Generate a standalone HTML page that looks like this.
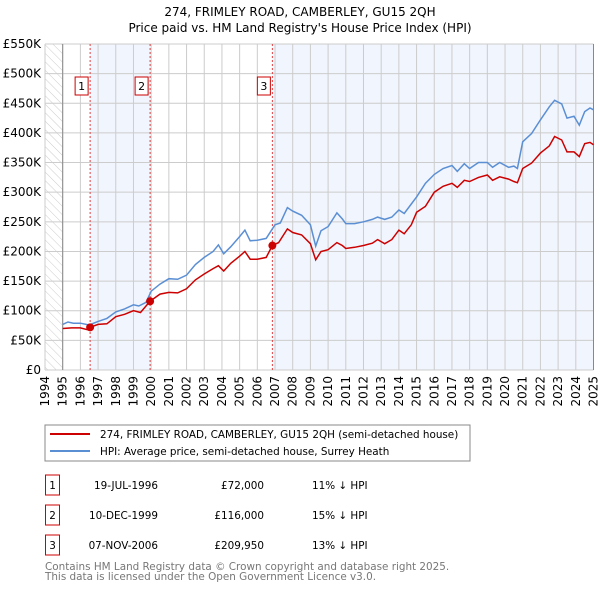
<!DOCTYPE html>
<html><head><meta charset="utf-8"><style>
body{margin:0;background:#fff;font-family:"DejaVu Sans","Liberation Sans",sans-serif;}
svg text{font-family:"DejaVu Sans","Liberation Sans",sans-serif;}
</style></head><body>
<svg id="c" width="600" height="590" viewBox="0 0 600 590" xmlns="http://www.w3.org/2000/svg">
<defs><pattern id="hatch" width="6" height="6" patternUnits="userSpaceOnUse" patternTransform="rotate(-45)"><line x1="0" y1="0" x2="0" y2="6" stroke="#ccc" stroke-width="1"/></pattern></defs>
<text x="300" y="16" text-anchor="middle" font-size="12">274, FRIMLEY ROAD, CAMBERLEY, GU15 2QH</text>
<text x="300" y="32" text-anchor="middle" font-size="12">Price paid vs. HM Land Registry's House Price Index (HPI)</text>
<g id="plot"></g>
<g>
<rect x="45" y="425" width="425" height="36" fill="#fff" stroke="#888"/>
<line x1="50" y1="434" x2="90" y2="434" stroke="#cc0000" stroke-width="2"/>
<text x="100" y="438" font-size="10.4">274, FRIMLEY ROAD, CAMBERLEY, GU15 2QH (semi-detached house)</text>
<line x1="50" y1="451" x2="90" y2="451" stroke="#5b8fd4" stroke-width="2"/>
<text x="100" y="455" font-size="10.4">HPI: Average price, semi-detached house, Surrey Heath</text>
</g>
<g id="table"></g>
<text x="45" y="570" font-size="10.4" fill="#777">Contains HM Land Registry data © Crown copyright and database right 2025.</text>
<text x="45" y="580" font-size="10.4" fill="#777">This data is licensed under the Open Government Licence v3.0.</text>
</svg>
<script>
const yTicks=[0,50,100,150,200,250,300,350,400,450,500,550];
const yLabels=["£0","£50K","£100K","£150K","£200K","£250K","£300K","£350K","£400K","£450K","£500K","£550K"];
const years=[1994,1995,1996,1997,1998,1999,2000,2001,2002,2003,2004,2005,2006,2007,2008,2009,2010,2011,2012,2013,2014,2015,2016,2017,2018,2019,2020,2021,2022,2023,2024,2025];
const saleT=[1996.55,1999.94,2006.85];
const saleV=[72,116,209.95];
const saleDates=["19-JUL-1996","10-DEC-1999","07-NOV-2006"];
const salePrices=["£72,000","£116,000","£209,950"];
const salePct=["11% ↓ HPI","15% ↓ HPI","13% ↓ HPI"];
const hpiT=[1995,1995.3,1995.6,1996,1996.5,1997,1997.5,1998,1998.5,1999,1999.3,1999.7,2000,2000.5,2001,2001.5,2002,2002.5,2003,2003.5,2003.8,2004.1,2004.5,2005,2005.3,2005.6,2006,2006.5,2007,2007.3,2007.7,2008,2008.5,2009,2009.3,2009.6,2010,2010.5,2010.8,2011,2011.5,2012,2012.5,2012.8,2013.2,2013.6,2014,2014.3,2014.7,2015,2015.5,2016,2016.5,2017,2017.3,2017.7,2018,2018.5,2019,2019.3,2019.7,2020.2,2020.5,2020.7,2021,2021.5,2022,2022.5,2022.8,2023.2,2023.5,2023.9,2024.2,2024.5,2024.8,2025];
const hpiV=[77,81,79,79,76,82,87,98,103,110,108,114,133,145,154,153,160,178,190,200,211,196,208,225,236,218,219,222,245,248,274,268,261,245,209,235,242,265,255,247,247,250,254,258,254,258,270,264,280,292,315,330,340,345,335,348,340,350,350,342,350,342,344,340,385,399,422,444,455,449,425,428,413,436,442,439];
const ppT=[1995,1995.5,1996,1996.4,1996.55,1997,1997.5,1998,1998.5,1999,1999.4,1999.94,2000.5,2001,2001.5,2002,2002.5,2003,2003.5,2003.8,2004.1,2004.5,2005,2005.3,2005.6,2006,2006.5,2006.85,2007.2,2007.7,2008,2008.5,2009,2009.3,2009.6,2010,2010.5,2010.8,2011,2011.5,2012,2012.5,2012.8,2013.2,2013.6,2014,2014.3,2014.7,2015,2015.5,2016,2016.5,2017,2017.3,2017.7,2018,2018.5,2019,2019.3,2019.7,2020.2,2020.5,2020.7,2021,2021.5,2022,2022.5,2022.8,2023.2,2023.5,2023.9,2024.2,2024.5,2024.8,2025];
const ppV=[70,71,71,68,72,77,78,90,94,100,97,116,128,131,130,137,152,162,171,176,167,180,192,200,187,187,190,210,215,238,232,228,213,186,200,203,215,210,205,207,210,214,220,213,220,236,230,245,266,276,300,310,315,308,320,318,325,329,320,326,322,318,316,340,349,366,378,394,388,368,368,360,382,384,380];
const X0=45,X1=593.5,Y0=370,Y1=44;
const x=t=>X0+(t-1994)*(X1-X0)/31;
const y=v=>Y0-v*(Y0-Y1)/550;
const NS="http://www.w3.org/2000/svg";
const plot=document.getElementById('plot');
function mk(tag,attrs,parent){const e=document.createElementNS(NS,tag);for(const k in attrs)e.setAttribute(k,attrs[k]);(parent||plot).appendChild(e);return e;}
let e;
e=mk('rect',{x:X0,y:Y1,width:X1-X0,height:Y0-Y1,fill:'#fff'});


e=mk('rect',{x:X0,y:Y1,width:x(1995)-X0,height:Y0-Y1,fill:'url(#hatch)'});


e=mk('rect',{x:x(saleT[0]),y:Y1,width:x(saleT[1])-x(saleT[0]),height:Y0-Y1,fill:'#eef3fc',opacity:0.8});


e=mk('rect',{x:x(saleT[2]),y:Y1,width:X1-x(saleT[2]),height:Y0-Y1,fill:'#eef3fc',opacity:0.8});


yTicks.forEach((v,i)=>{
 e=mk('line',{x1:X0,x2:X1,y1:y(v),y2:y(v),stroke:'#ccc','stroke-width':1});
 
 
 e=mk('text',{x:X0-4,y:y(v)+4,'text-anchor':'end','font-size':12});
 e.textContent=yLabels[i];
 
 
});
years.forEach(yr=>{
 e=mk('line',{x1:x(yr),x2:x(yr),y1:Y1,y2:Y0,stroke:'#ccc','stroke-width':1});
 
 
 e=mk('text',{x:0,y:0,'font-size':12,'text-anchor':'end',transform:`translate(${x(yr)+4},${Y0+6}) rotate(-90)`});
 e.textContent=yr;
 
 
});
e=mk('line',{x1:x(1995),x2:x(1995),y1:Y1,y2:Y0,stroke:'#888'});


e=mk('line',{x1:X1,x2:X1,y1:Y1,y2:Y0,stroke:'#888'});


saleT.forEach((t,i)=>{
 e=mk('line',{x1:x(t),x2:x(t),y1:Y1,y2:Y0,stroke:'#e04040','stroke-dasharray':'2,2','stroke-width':1});
 
 
 e=mk('rect',{x:x(t)-15,y:77,width:13,height:18,fill:'#fff',stroke:'#cc0000'});
 
 
 e=mk('text',{x:x(t)-8.5,y:90,'text-anchor':'middle','font-size':11});
 e.textContent=String(i+1);
 
 
});
const pathOf=(T,V)=>T.map((t,i)=>(i?'L':'M')+x(t).toFixed(1)+','+y(V[i]).toFixed(1)).join('');
e=mk('path',{d:pathOf(hpiT,hpiV),fill:'none',stroke:'#5b8fd4','stroke-width':1.5});


e=mk('path',{d:pathOf(ppT,ppV),fill:'none',stroke:'#cc0000','stroke-width':1.5});


saleT.forEach((t,i)=>{
 e=mk('circle',{cx:x(t),cy:y(saleV[i]),r:4,fill:'#cc0000'});
 
 
});
const tb=document.getElementById('table');
saleT.forEach((t,i)=>{
 const cy=485+i*30;
 e=mk('rect',{x:45.5,y:cy-10,width:14,height:20,fill:'#fff',stroke:'#cc0000'},tb);
 
 
 e=mk('text',{x:52.5,y:cy+4,'text-anchor':'middle','font-size':10.4},tb);
 e.textContent=String(i+1);
 
 
 e=mk('text',{x:158,y:cy+4,'text-anchor':'end','font-size':10.4},tb);
 e.textContent=saleDates[i];
 
 
 e=mk('text',{x:264,y:cy+4,'text-anchor':'end','font-size':10.4},tb);
 e.textContent=salePrices[i];
 
 
 e=mk('text',{x:312,y:cy+4,'font-size':10.4},tb);
 e.textContent=salePct[i];
 
 
});
</script>
</body></html>
